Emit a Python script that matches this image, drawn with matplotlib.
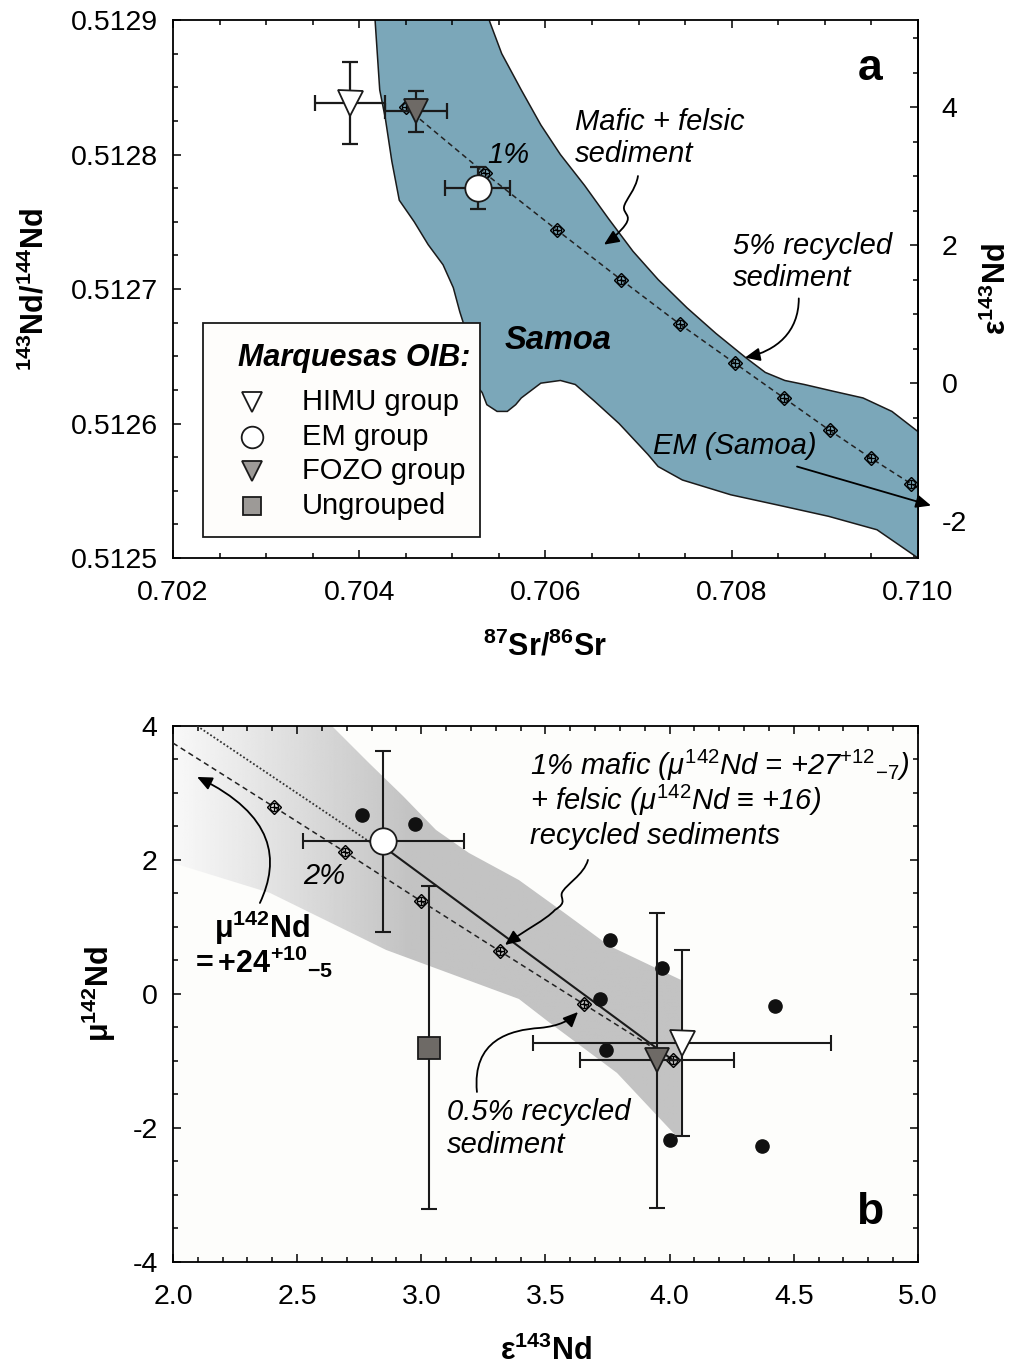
import numpy as np
import matplotlib
matplotlib.use("Agg")
import matplotlib.pyplot as plt
from matplotlib.patches import Polygon, Rectangle, FancyArrowPatch
from matplotlib.path import Path
from matplotlib.ticker import MultipleLocator, FixedLocator, FormatStrFormatter

plt.rcParams.update({
    "font.family": ["Liberation Sans", "DejaVu Sans"],
    "mathtext.fontset": "custom",
    "mathtext.rm": "Liberation Sans",
    "mathtext.it": "Liberation Sans:italic",
    "mathtext.bf": "Liberation Sans:bold",
    "mathtext.bfit": "Liberation Sans:italic:bold",
    "axes.linewidth": 1.3,
    "axes.unicode_minus": False,
})

# ---------------- panel a: Sr-Nd isotopes ----------------
CHUR_ND = 0.512630

samoa_sr = [0.70416, 0.70417, 0.70422, 0.70428, 0.70435, 0.70443, 0.70459, 0.70474,
            0.70490, 0.70501, 0.70508, 0.70514, 0.70519, 0.70525, 0.70532, 0.70537,
            0.70548, 0.70559, 0.70568, 0.70574, 0.70595, 0.70616, 0.70632, 0.70652,
            0.70679, 0.70710, 0.70721, 0.70747, 0.70799, 0.70852, 0.70904, 0.70956,
            0.71000, 0.71010,
            0.71010, 0.71000, 0.70972, 0.70941, 0.70909, 0.70878, 0.70857, 0.70836,
            0.70815, 0.70783, 0.70752, 0.70721, 0.70694, 0.70668, 0.70642, 0.70616,
            0.70595, 0.70574, 0.70553, 0.70540, 0.70539]
samoa_nd = [0.512920, 0.512900, 0.512848, 0.512827, 0.512795, 0.512766, 0.512750, 0.512733,
            0.512718, 0.512701, 0.512683, 0.512670, 0.512647, 0.512629, 0.512623, 0.512614,
            0.512609, 0.512609, 0.512614, 0.512619, 0.512630, 0.512632, 0.512629, 0.512617,
            0.512600, 0.512577, 0.512568, 0.512558, 0.512547, 0.512539, 0.512531, 0.512521,
            0.512500, 0.512490,
            0.512594, 0.512594, 0.512609, 0.512619, 0.512624, 0.512629, 0.512632, 0.512638,
            0.512649, 0.512667, 0.512686, 0.512707, 0.512728, 0.512752, 0.512777, 0.512800,
            0.512822, 0.512848, 0.512875, 0.512899, 0.512920]

# mixing curve, 0-9 % recycled sediment in 1 % steps
mix_a_sr = [0.70450, 0.70535, 0.70612, 0.70681, 0.70744, 0.70803, 0.70856, 0.70905, 0.70950, 0.70993]
mix_a_nd = [0.512835, 0.512786, 0.512744, 0.512707, 0.512674, 0.512645, 0.512619, 0.512595, 0.512574, 0.512555]

groups = ["HIMU group", "EM group", "FOZO group", "Ungrouped"]
a_sr = [0.70390, 0.70527, 0.70461]
a_sr_err = [0.00038, 0.00035, 0.00033]
a_nd = [0.512838, 0.512775, 0.512832]
a_nd_err = [0.0000305, 0.0000155, 0.0000150]

eps_ticks = [-2, 0, 2, 4]

# ---------------- panel b: eNd vs mu142Nd ----------------
b_eps = [4.05, 2.847, 3.95, 3.03]
b_eps_err = [0.60, 0.325, 0.31, 0.0]
b_mu = [-0.73, 2.28, -0.99, -0.80]
b_mu_err = [1.39, 1.35, 2.20, 2.41]

sample_eps = [2.76, 2.975, 3.76, 3.97, 3.72, 3.745, 4.00, 4.425, 4.37]
sample_mu = [2.67, 2.54, 0.81, 0.385, -0.07, -0.835, -2.185, -0.18, -2.27]

# mixing curve, 0-2.5 % recycled sediment in 0.5 % steps
mix_b_eps = [2.407, 2.694, 2.997, 3.317, 3.656, 4.013]
mix_b_mu = [2.791, 2.115, 1.390, 0.637, -0.156, -0.988]

model_eps = [2.847, 4.013]
model_mu = [2.20, -0.988]
model_ext_eps = [2.097, 2.80]
model_ext_mu = [4.0, 2.25]

band_eps = [1.99, 2.62, 2.644, 2.789, 2.926, 3.059, 3.192, 3.393, 3.58, 3.756, 4.045,
            4.045, 4.03, 3.788, 3.518, 3.393, 2.858, 2.391, 2.0, 1.99]
band_mu = [4.06, 4.06, 3.985, 3.448, 2.955, 2.448, 2.104, 1.70, 1.20, 0.72, 0.21,
           -2.13, -2.134, -1.179, -0.433, -0.075, 0.657, 1.507, 1.955, 1.96]

styles = {
    "HIMU group": dict(marker="v", mfc="white", ms=18),
    "EM group": dict(marker="o", mfc="white", ms=19),
    "FOZO group": dict(marker="v", mfc="#6e6a66", ms=17),
    "Ungrouped": dict(marker="s", mfc="#6e6a66", ms=16),
}
legend_fill = {"HIMU group": "white", "EM group": "white",
               "FOZO group": "#9d9a97", "Ungrouped": "#9d9a97"}

TICK_FS = 20.5
TEXT_FS = 21


def style_ticks(ax, pad_x, pad_y, **kw):
    ax.tick_params(which="both", direction="in", width=1.1, **kw)
    ax.tick_params(which="major", length=6)
    ax.tick_params(which="minor", length=3.6)
    ax.tick_params(axis="x", pad=pad_x, labelsize=TICK_FS)
    ax.tick_params(axis="y", pad=pad_y, labelsize=TICK_FS)


def mix_markers(ax, x, y):
    ax.plot(x, y, "D", ms=7, mfc="none", mec="k", mew=1.0, zorder=4)
    ax.plot(x, y, "o", ms=6, mfc="none", mec="k", mew=0.9, zorder=4)
    ax.plot(x, y, "+", ms=6, mec="k", mew=0.9, zorder=4)


def curved_arrow(ax, pts, lw=1.3):
    codes = [Path.MOVETO] + [Path.CURVE4] * (len(pts) - 1)
    arr = FancyArrowPatch(path=Path(pts, codes),
                          arrowstyle="-|>,head_length=0.45,head_width=0.2",
                          mutation_scale=20, color="k", lw=lw,
                          shrinkA=0, shrinkB=0, zorder=6)
    ax.add_patch(arr)


fig = plt.figure(figsize=(10.11, 13.65), dpi=100)

# ======================= panel a =======================
ax1 = fig.add_axes([0.1711, 0.5912, 0.7369, 0.39414])
ax1.set_xlim(0.702, 0.710)
ax1.set_ylim(0.5125, 0.5129)

ax1.add_patch(Polygon(np.column_stack([samoa_sr, samoa_nd]), closed=True,
                      fc="#7ba7b9", ec="#1a1a1a", lw=1.1, zorder=1))

ext_sr = mix_a_sr + [0.7100]
slope = (mix_a_nd[-1] - mix_a_nd[-2]) / (mix_a_sr[-1] - mix_a_sr[-2])
ext_nd = mix_a_nd + [mix_a_nd[-1] + slope * (0.7100 - mix_a_sr[-1])]
ax1.plot(ext_sr, ext_nd, ls=(0, (3.5, 2.5)), color="#222222", lw=1.1, zorder=3)
mix_markers(ax1, mix_a_sr, mix_a_nd)

for i, g in enumerate(groups[:3]):
    ax1.errorbar(a_sr[i], a_nd[i], xerr=a_sr_err[i], yerr=a_nd_err[i], fmt="none",
                 ecolor="#1a1a1a", elinewidth=1.6, capsize=6, capthick=1.6, zorder=5)
    st = styles[g]
    ax1.plot(a_sr[i], a_nd[i], st["marker"], ms=st["ms"], mfc=st["mfc"],
             mec="#1a1a1a", mew=1.3, zorder=6)

ax1.xaxis.set_major_locator(MultipleLocator(0.002))
ax1.xaxis.set_minor_locator(MultipleLocator(0.0005))
ax1.yaxis.set_major_locator(MultipleLocator(0.0001))
ax1.yaxis.set_minor_locator(MultipleLocator(0.000025))
ax1.xaxis.set_major_formatter(FormatStrFormatter("%.3f"))
ax1.yaxis.set_major_formatter(FormatStrFormatter("%.4f"))
style_ticks(ax1, 16, 11, top=True, right=False)

sec = ax1.secondary_yaxis("right", functions=(lambda y: (y / CHUR_ND - 1) * 1e4,
                                               lambda e: CHUR_ND * (1 + e / 1e4)))
sec.yaxis.set_major_locator(FixedLocator(eps_ticks))
sec.yaxis.set_minor_locator(FixedLocator(np.arange(-2.5, 5.01, 0.5)))
sec.yaxis.set_major_formatter(FormatStrFormatter("%d"))
sec.tick_params(which="both", direction="in", width=1.1, labelsize=TICK_FS, pad=17)
sec.tick_params(which="major", length=6)
sec.tick_params(which="minor", length=3.6)
sec.set_ylabel(r"$\mathbf{ε^{143}Nd}$", fontsize=22, rotation=90, labelpad=11)

ax1.set_xlabel(r"$\mathbf{^{87}Sr/^{86}Sr}$", fontsize=22)
ax1.xaxis.set_label_coords(0.5, -0.136)
ax1.set_ylabel(r"$\mathbf{^{143}Nd/^{144}Nd}$", fontsize=22)
ax1.yaxis.set_label_coords(-0.164, 0.5)

ax1.text(0.709485, 0.512864, "a", fontsize=32, fontweight="bold", ha="center", va="center")
ax1.text(0.70538, 0.512800, "1%", fontsize=TEXT_FS, style="italic", ha="left", va="center")
ax1.text(0.706317, 0.512812, "Mafic + felsic\nsediment", fontsize=TEXT_FS, style="italic",
         ha="left", va="center", linespacing=1.18)
ax1.text(0.708013, 0.512720, "5% recycled\nsediment", fontsize=TEXT_FS, style="italic",
         ha="left", va="center", linespacing=1.18)
ax1.text(0.706134, 0.512662, "Samoa", fontsize=23.5, style="italic", fontweight="bold",
         ha="center", va="center", zorder=6)
ax1.text(0.708035, 0.512583, "EM (Samoa)", fontsize=TEXT_FS, style="italic",
         ha="center", va="center", zorder=6)

curved_arrow(ax1, [(0.706993, 0.512784), (0.706972, 0.512774), (0.706854, 0.512766),
                   (0.706843, 0.512761), (0.706832, 0.512756), (0.706929, 0.512755),
                   (0.706860, 0.512748), (0.706800, 0.512742), (0.706693, 0.512736),
                   (0.706628, 0.512733)])
curved_arrow(ax1, [(0.708720, 0.512693), (0.708720, 0.512668),
                   (0.708480, 0.512654), (0.708142, 0.512649)])
ax1.annotate("", xy=(0.71014, 0.512539), xytext=(0.708701, 0.512568),
             arrowprops=dict(arrowstyle="-|>,head_length=0.45,head_width=0.2",
                             mutation_scale=20, color="k", lw=1.3,
                             shrinkA=0, shrinkB=0),
             annotation_clip=False, zorder=6)

# hand-built legend box
lx0, ly0, lw_, lh_ = 0.0403, 0.039, 0.3718, 0.3978
ax1.add_patch(Rectangle((lx0, ly0), lw_, lh_, transform=ax1.transAxes,
                        fc="#fefdfb", ec="#1a1a1a", lw=1.3, zorder=7))
ax1.text(0.0872, 0.3717, "Marquesas OIB:", transform=ax1.transAxes, fontsize=22,
         style="italic", fontweight="bold", ha="left", va="center", zorder=8)
for row, g in enumerate(groups):
    yy = 0.290 - row * 0.0645
    st = styles[g]
    ax1.plot(0.106, yy, st["marker"], ms=st["ms"] * 0.82, mfc=legend_fill[g],
             mec="#1a1a1a", mew=1.3, transform=ax1.transAxes, zorder=8, clip_on=False)
    ax1.text(0.1732, yy, g, transform=ax1.transAxes, fontsize=TEXT_FS,
             ha="left", va="center", zorder=8)

# ======================= panel b =======================
ax2 = fig.add_axes([0.1711, 0.0755, 0.7369, 0.39267])
ax2.set_facecolor("#fdfdfb")
ax2.set_xlim(2.0, 5.0)
ax2.set_ylim(-4, 4)

band = Polygon(np.column_stack([band_eps, band_mu]), closed=True, fc="none", ec="none")
ax2.add_patch(band)
gx = np.linspace(2.0, 4.1, 400)
shade = 0.765 + (0.975 - 0.765) * np.clip((2.95 - gx) / 0.95, 0, 1)
img = ax2.imshow(np.tile(shade, (2, 1)), cmap="gray", vmin=0, vmax=1, aspect="auto",
                 extent=(2.0, 4.1, -2.3, 4.1), origin="lower", interpolation="bilinear",
                 zorder=1)
img.set_clip_path(band)

dash_x = [2.0] + mix_b_eps
fit = np.polyfit(mix_b_eps, mix_b_mu, 1)
dash_y = [np.polyval(fit, 2.0)] + mix_b_mu
ax2.plot(dash_x, dash_y, ls=(0, (3.5, 2.5)), color="#222222", lw=1.1, zorder=3)
ax2.plot(model_eps, model_mu, "-", color="#1a1a1a", lw=1.5, zorder=3)
ax2.plot(model_ext_eps, model_ext_mu, ls=(0, (1, 1.2)), color="#333333", lw=1.3, zorder=3)
mix_markers(ax2, mix_b_eps, mix_b_mu)

ax2.plot(sample_eps, sample_mu, "o", ms=9.5, color="#111111", zorder=4)

for i, g in enumerate(groups):
    ax2.errorbar(b_eps[i], b_mu[i], xerr=b_eps_err[i] if b_eps_err[i] > 0 else None,
                 yerr=b_mu_err[i], fmt="none", ecolor="#1a1a1a", elinewidth=1.5,
                 capsize=6, capthick=1.5, zorder=5)
for i, g in enumerate(groups):
    st = styles[g]
    ax2.plot(b_eps[i], b_mu[i], st["marker"], ms=st["ms"], mfc=st["mfc"],
             mec="#1a1a1a", mew=1.3, zorder=6)

ax2.xaxis.set_major_locator(MultipleLocator(0.5))
ax2.xaxis.set_minor_locator(MultipleLocator(0.1))
ax2.yaxis.set_major_locator(MultipleLocator(2))
ax2.yaxis.set_minor_locator(MultipleLocator(0.5))
ax2.xaxis.set_major_formatter(FormatStrFormatter("%.1f"))
ax2.yaxis.set_major_formatter(FormatStrFormatter("%d"))
style_ticks(ax2, 16, 11, top=True, right=True)

ax2.set_xlabel(r"$\mathbf{ε^{143}Nd}$", fontsize=22)
ax2.xaxis.set_label_coords(0.5, -0.138)
ax2.set_ylabel(r"$\mathbf{μ^{142}Nd}$", fontsize=22)
ax2.yaxis.set_label_coords(-0.074, 0.5)

ax2.text(3.4376, 3.418, r"1% mafic ($\mathit{μ}^{142}\mathit{Nd}$ = +27$^{+12}{}_{-7}$)",
         fontsize=TEXT_FS, style="italic", ha="left", va="center", zorder=7)
ax2.text(3.4376, 2.896, r"+ felsic ($\mathit{μ}^{142}\mathit{Nd}$ ≡ +16)",
         fontsize=TEXT_FS, style="italic", ha="left", va="center", zorder=7)
ax2.text(3.4376, 2.358, "recycled sediments", fontsize=TEXT_FS, style="italic",
         ha="left", va="center", zorder=7)
ax2.text(2.608, 1.761, "2%", fontsize=TEXT_FS, style="italic", ha="center", va="center", zorder=7)
ax2.text(2.358, 0.985, r"$\mathbf{μ^{142}Nd}$", fontsize=22, ha="center", va="center", zorder=7)
ax2.text(2.068, 0.478, r"$\mathbf{= +24^{+10}{}_{-5}}$", fontsize=22,
         ha="left", va="center", zorder=7)
ax2.text(3.103, -1.761, "0.5% recycled", fontsize=TEXT_FS, style="italic",
         ha="left", va="center", zorder=7)
ax2.text(3.103, -2.254, "sediment", fontsize=TEXT_FS, style="italic",
         ha="left", va="center", zorder=7)
ax2.text(4.807, -3.269, "b", fontsize=32, fontweight="bold", ha="center", va="center", zorder=7)

curved_arrow(ax2, [(3.671, 2.0), (3.655, 1.776), (3.579, 1.627), (3.566, 1.507),
                   (3.558, 1.418), (3.591, 1.373), (3.538, 1.254),
                   (3.500, 1.10), (3.417, 0.955), (3.337, 0.731)])
curved_arrow(ax2, [(2.350, 1.358), (2.431, 2.0), (2.411, 2.672), (2.097, 3.239)])
curved_arrow(ax2, [(3.224, -1.463), (3.204, -0.687), (3.357, -0.537), (3.478, -0.507),
                   (3.558, -0.478), (3.599, -0.388), (3.631, -0.269)])

fig.savefig("out.png", dpi=100)
